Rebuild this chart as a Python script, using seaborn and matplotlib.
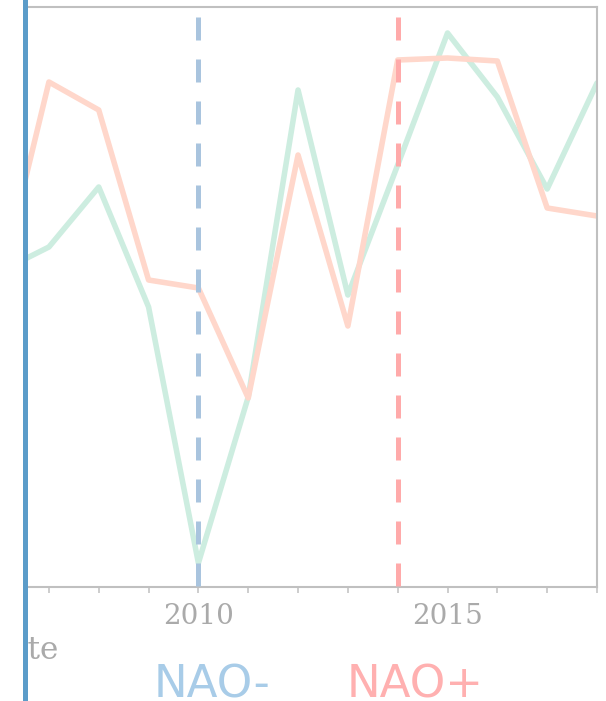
import numpy as np
import pandas as pd
import matplotlib.pyplot as plt
import seaborn as sns
from matplotlib.ticker import MultipleLocator
from matplotlib.patches import Rectangle

# data (arbitrary units)
years = list(range(2006, 2019))
green_vals = [3.15, 3.40, 4.00, 2.80, 0.24, 1.90, 4.97, 2.92, 4.22, 5.54, 4.90, 3.98, 5.04]
salmon_vals = [2.99, 5.05, 4.77, 3.07, 2.99, 1.89, 4.32, 2.61, 5.27, 5.29, 5.26, 3.79, 3.71]
nao_minus_year = 2010
nao_plus_year = 2014

df = pd.DataFrame({
    "year": years * 2,
    "value": green_vals + salmon_vals,
    "series": ["a"] * len(years) + ["b"] * len(years),
})

sns.set_style("white")

fig = plt.figure(figsize=(6.06, 7.01), dpi=100)
ax = fig.add_axes([27 / 606, (701 - 587) / 701, 570 / 606, 580 / 701])

sns.lineplot(data=df, x="year", y="value", hue="series",
             palette={"a": "#cdede0", "b": "#ffd7cb"},
             linewidth=4, legend=False, ax=ax)

ax.plot([nao_minus_year, nao_minus_year], [5.70, 0], color="#a9c4de",
        lw=3.6, linestyle=(0, (4.6, 3.8)), dash_capstyle="butt", zorder=5)
ax.plot([nao_plus_year, nao_plus_year], [5.70, 0], color="#ffaaaa",
        lw=3.6, linestyle=(0, (4.6, 3.8)), dash_capstyle="butt", zorder=5)

ax.set_xlim(2006.56, 2018)
ax.set_ylim(0, 5.80)
ax.set_xlabel("")
ax.set_ylabel("")
ax.set_yticks([])

ax.xaxis.set_major_locator(MultipleLocator(5))
ax.xaxis.set_minor_locator(MultipleLocator(1))
ax.tick_params(axis="x", which="both", length=4.3, width=1.1, color="#c0c0c0",
               labelsize=20, labelcolor="#aaaaaa", pad=7.5, bottom=True)
for lab in ax.get_xticklabels():
    lab.set_fontfamily("DejaVu Serif")

for side in ["top", "right", "bottom"]:
    ax.spines[side].set_color("#c0c0c0")
    ax.spines[side].set_linewidth(1.5)
ax.spines["left"].set_visible(False)

# cut-off axis title
fig.text(59 / 606, 1 - 659 / 701, "Date", ha="right", va="baseline",
         fontsize=22.5, family="DejaVu Serif", color="#aaaaaa")

fig.text(212 / 606, 1 - 697 / 701, "NAO-", ha="center", va="baseline",
         fontsize=32.5, color="#a8cce8")
fig.text(415 / 606, 1 - 697 / 701, "NAO+", ha="center", va="baseline",
         fontsize=32.5, color="#ffb0b0")

# left edge: white cover plus blue bar
fig.patches.append(Rectangle((0, 0), 24 / 606, 1, transform=fig.transFigure,
                             facecolor="white", edgecolor="none", zorder=10))
fig.patches.append(Rectangle((23 / 606, 0), 5 / 606, 1, transform=fig.transFigure,
                             facecolor="#5b9cc9", edgecolor="none", zorder=11))

fig.savefig("out.png", dpi=100)
